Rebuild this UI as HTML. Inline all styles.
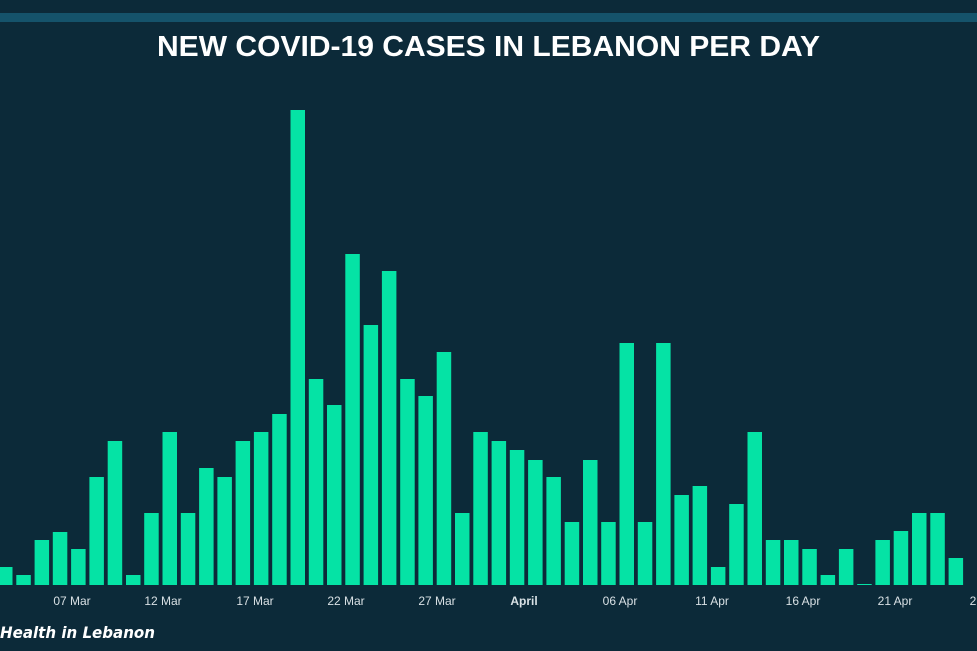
<!DOCTYPE html>
<html><head><meta charset="utf-8"><style>
html,body{margin:0;padding:0;background:#0c2a39;}
svg{display:block}
</style></head><body>
<svg width="977" height="651" xmlns="http://www.w3.org/2000/svg">
<rect width="977" height="651" fill="#0c2a39"/>
<rect x="0" y="13" width="977" height="9" fill="#15536b"/>
<text x="157" y="56" font-family="Liberation Sans, sans-serif" font-weight="bold" font-size="29" fill="#fff" textLength="663" lengthAdjust="spacingAndGlyphs">NEW COVID-19 CASES IN LEBANON PER DAY</text>
<g fill="#05e3a5">
<rect x="0" y="567" width="12.5" height="18"/>
<rect x="16.3" y="575" width="14.5" height="10"/>
<rect x="34.6" y="540" width="14.5" height="45"/>
<rect x="52.8" y="532" width="14.5" height="53"/>
<rect x="71.1" y="549" width="14.5" height="36"/>
<rect x="89.4" y="477" width="14.5" height="108"/>
<rect x="107.7" y="441" width="14.5" height="144"/>
<rect x="126.0" y="575" width="14.5" height="10"/>
<rect x="144.2" y="513" width="14.5" height="72"/>
<rect x="162.5" y="432" width="14.5" height="153"/>
<rect x="180.8" y="513" width="14.5" height="72"/>
<rect x="199.1" y="468" width="14.5" height="117"/>
<rect x="217.4" y="477" width="14.5" height="108"/>
<rect x="235.6" y="441" width="14.5" height="144"/>
<rect x="253.9" y="432" width="14.5" height="153"/>
<rect x="272.2" y="414" width="14.5" height="171"/>
<rect x="290.5" y="110" width="14.5" height="475"/>
<rect x="308.8" y="379" width="14.5" height="206"/>
<rect x="327.0" y="405" width="14.5" height="180"/>
<rect x="345.3" y="254" width="14.5" height="331"/>
<rect x="363.6" y="325" width="14.5" height="260"/>
<rect x="381.9" y="271" width="14.5" height="314"/>
<rect x="400.2" y="379" width="14.5" height="206"/>
<rect x="418.4" y="396" width="14.5" height="189"/>
<rect x="436.7" y="352" width="14.5" height="233"/>
<rect x="455.0" y="513" width="14.5" height="72"/>
<rect x="473.3" y="432" width="14.5" height="153"/>
<rect x="491.6" y="441" width="14.5" height="144"/>
<rect x="509.8" y="450" width="14.5" height="135"/>
<rect x="528.1" y="460" width="14.5" height="125"/>
<rect x="546.4" y="477" width="14.5" height="108"/>
<rect x="564.7" y="522" width="14.5" height="63"/>
<rect x="583.0" y="460" width="14.5" height="125"/>
<rect x="601.2" y="522" width="14.5" height="63"/>
<rect x="619.5" y="343" width="14.5" height="242"/>
<rect x="637.8" y="522" width="14.5" height="63"/>
<rect x="656.1" y="343" width="14.5" height="242"/>
<rect x="674.4" y="495" width="14.5" height="90"/>
<rect x="692.6" y="486" width="14.5" height="99"/>
<rect x="710.9" y="567" width="14.5" height="18"/>
<rect x="729.2" y="504" width="14.5" height="81"/>
<rect x="747.5" y="432" width="14.5" height="153"/>
<rect x="765.8" y="540" width="14.5" height="45"/>
<rect x="784.0" y="540" width="14.5" height="45"/>
<rect x="802.3" y="549" width="14.5" height="36"/>
<rect x="820.6" y="575" width="14.5" height="10"/>
<rect x="838.9" y="549" width="14.5" height="36"/>
<rect x="857.2" y="584" width="14.5" height="1"/>
<rect x="875.4" y="540" width="14.5" height="45"/>
<rect x="893.7" y="531" width="14.5" height="54"/>
<rect x="912.0" y="513" width="14.5" height="72"/>
<rect x="930.3" y="513" width="14.5" height="72"/>
<rect x="948.6" y="558" width="14.5" height="27"/>
</g>
<g font-family="Liberation Sans, sans-serif" font-size="12" fill="#d8e0e4" text-anchor="middle">
<text x="72" y="605">07 Mar</text>
<text x="163" y="605">12 Mar</text>
<text x="255" y="605">17 Mar</text>
<text x="346" y="605">22 Mar</text>
<text x="437" y="605">27 Mar</text>
<text x="524" y="605" font-weight="bold">April</text>
<text x="620" y="605">06 Apr</text>
<text x="712" y="605">11 Apr</text>
<text x="803" y="605">16 Apr</text>
<text x="895" y="605">21 Apr</text>
<text x="987" y="605">26 Apr</text>
</g>
<text x="0" y="638" font-family="DejaVu Sans, sans-serif" font-style="italic" font-weight="bold" font-size="16" fill="#fff" textLength="155" lengthAdjust="spacingAndGlyphs">Health in Lebanon</text>
</svg>
</body></html>
